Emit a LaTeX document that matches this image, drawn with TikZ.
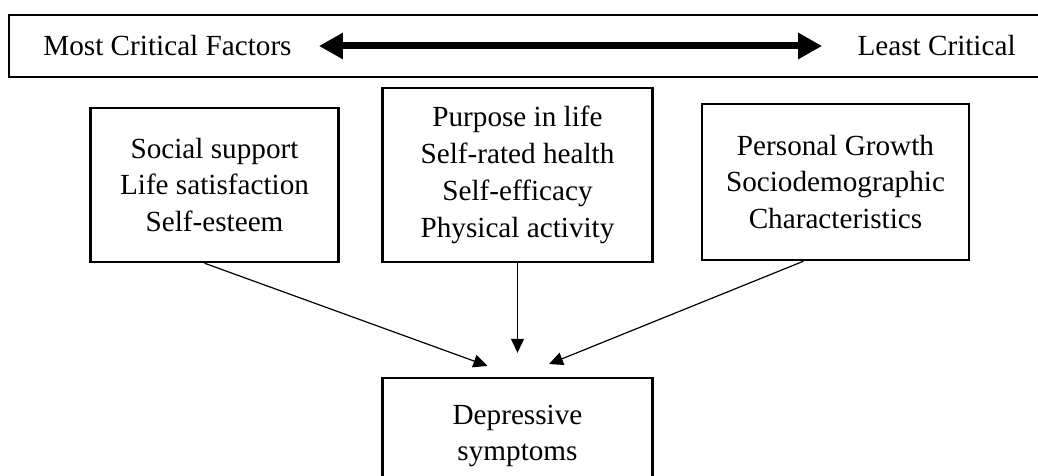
\documentclass[tikz,border=0pt]{standalone}
\usepackage{fontspec}
\setmainfont{Liberation Serif}
\usetikzlibrary{arrows.meta}

\begin{document}
\begin{tikzpicture}[x=0.5pt, y=-0.5pt,
    factor/.style={draw, line width=1.2pt, align=center, inner sep=0pt,
        font=\fontsize{14.6pt}{18.4pt}\selectfont},
    scaletext/.style={inner sep=0pt, font=\fontsize{14.6pt}{18.4pt}\selectfont},
    link/.style={line width=0.6pt, -{Triangle[length=7pt, width=6.5pt]}},
    scalearrow/.style={line width=3.5pt,
        {Triangle[length=12pt, width=12.5pt]}-{Triangle[length=12pt, width=12.5pt]}}]
    \def\midX{517.5}    % x-coordinate of middle column
    \def\scaleY{46}     % y-coordinate of the scale line
    \def\rowY{182}      % y-coordinate of the factor row

    \useasboundingbox (0,0) rectangle (1038,476);
    \clip (0,0) rectangle (1038,476);

    % Scale frame
    \draw[line width=1pt] (9,15) rectangle (1060,77);
    \node[scaletext, anchor=west] (most) at (43,\scaleY) {Most Critical Factors};
    \node[scaletext, anchor=east] (least) at (1016,\scaleY) {Least Critical};
    \draw[scalearrow, shorten <=13.5pt, shorten >=17.5pt] (most) -- (least);

    % Factor boxes
    \node[factor, minimum width=124pt, minimum height=77pt] (social) at (214.5,\rowY+3)
        {Social support\\Life satisfaction\\Self-esteem};
    \node[factor, minimum width=135pt, minimum height=87pt] (purpose) at (\midX,\rowY-7)
        {Purpose in life\\Self-rated health\\Self-efficacy\\Physical activity};
    \node[factor, minimum width=133.5pt, minimum height=78pt] (growth) at (835.5,\rowY)
        {Personal Growth\\Sociodemographic\\Characteristics};
    \node[factor, minimum width=135pt, minimum height=58pt] (depress) at (\midX,436)
        {Depressive\\symptoms};

    % Links to outcome
    \draw[link, shorten >=16pt] ([xshift=-5pt]social.south) -- (depress.north);
    \draw[link, shorten >=12pt] (purpose) -- (depress);
    \draw[link, shorten >=17pt] ([xshift=-16pt]growth.south) -- (depress.north);
\end{tikzpicture}
\end{document}
